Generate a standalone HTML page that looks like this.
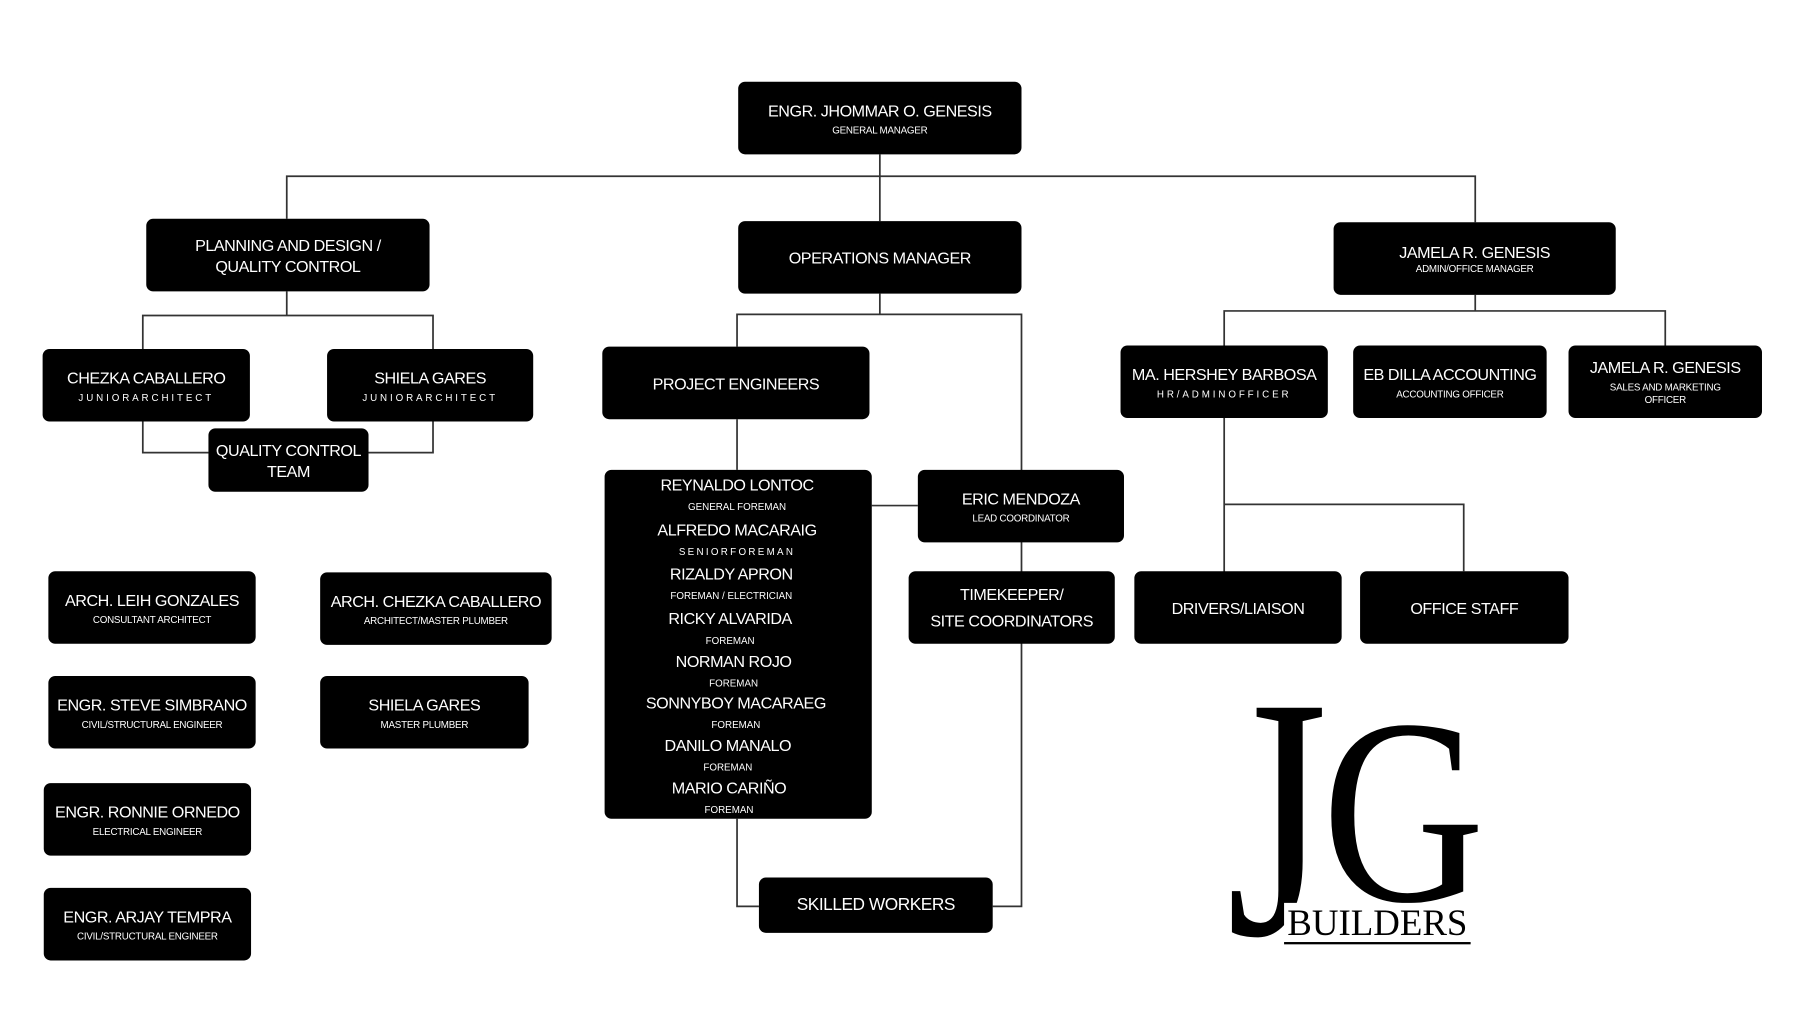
<!DOCTYPE html>
<html><head><meta charset="utf-8"><style>
html,body{margin:0;padding:0;background:#fff;width:1800px;height:1013px;overflow:hidden}
#c{position:absolute;left:0;top:0;width:1563px;height:880px;transform:scale(1.15163);transform-origin:0 0;font-family:"Liberation Sans",sans-serif}
.b{position:absolute;background:#000;border-radius:6px;color:#fff;display:flex;flex-direction:column;align-items:center;justify-content:center;text-align:center;font-size:14px;line-height:18px;white-space:nowrap;letter-spacing:-0.4px}
.b small{font-size:8.5px;line-height:11px;margin-top:3px;letter-spacing:-0.2px}
.b small.sp{letter-spacing:2.5px}
svg{position:absolute;left:0;top:0}
.l{position:absolute;font-size:14px;text-align:center;width:232px;color:#fff;line-height:17px;white-space:nowrap;letter-spacing:-0.4px}
.l small{font-size:8.5px;letter-spacing:0}
</style></head><body><div id="c">
<svg width="1563" height="880"><g stroke="#333" stroke-width="1.5" fill="none">
<path d="M764 134V192M249 190V153H1281V193"/>
<path d="M249 253V274M124 303V274H376V303M124 366V393H181M376 366V393H320"/>
<path d="M764 255V273M640 301V273H887V787H862M640 364V408M757 439H797M640 711V787H659"/>
<path d="M1281 256V270M1063 300V270H1446V300M1063 363V497M1063 438H1271V496"/>
</g></svg>
<div class="b" style="left:641px;top:71px;width:246px;height:63px">ENGR. JHOMMAR O. GENESIS<small>GENERAL MANAGER</small></div>
<div class="b" style="left:127px;top:190px;width:246px;height:63px">PLANNING AND DESIGN /<br>QUALITY CONTROL</div>
<div class="b" style="left:641px;top:192px;width:246px;height:63px">OPERATIONS MANAGER</div>
<div class="b" style="left:1158px;top:193px;width:245px;height:63px">JAMELA R. GENESIS<small style="margin-top:0">ADMIN/OFFICE MANAGER</small></div>
<div class="b" style="left:37px;top:303px;width:180px;height:63px">CHEZKA CABALLERO<small class="sp">JUNIORARCHITECT</small></div>
<div class="b" style="left:284px;top:303px;width:179px;height:63px">SHIELA GARES<small class="sp">JUNIORARCHITECT</small></div>
<div class="b" style="left:181px;top:372px;width:139px;height:55px">QUALITY CONTROL<br>TEAM</div>
<div class="b" style="left:523px;top:301px;width:232px;height:63px">PROJECT ENGINEERS</div>
<div class="b" style="left:525px;top:408px;width:232px;height:303px"></div>
<div class="l" style="left:524px;top:413px">REYNALDO LONTOC<br><small>GENERAL FOREMAN</small></div>
<div class="l" style="left:524px;top:452px">ALFREDO MACARAIG<br><small style="letter-spacing:2px">SENIORFOREMAN</small></div>
<div class="l" style="left:519px;top:490px">RIZALDY APRON<br><small>FOREMAN / ELECTRICIAN</small></div>
<div class="l" style="left:518px;top:529px">RICKY ALVARIDA<br><small>FOREMAN</small></div>
<div class="l" style="left:521px;top:566px">NORMAN ROJO<br><small>FOREMAN</small></div>
<div class="l" style="left:523px;top:602px">SONNYBOY MACARAEG<br><small>FOREMAN</small></div>
<div class="l" style="left:516px;top:639px">DANILO MANALO<br><small>FOREMAN</small></div>
<div class="l" style="left:517px;top:676px">MARIO CARIÑO<br><small>FOREMAN</small></div>
<div class="b" style="left:797px;top:408px;width:179px;height:63px">ERIC MENDOZA<small>LEAD COORDINATOR</small></div>
<div class="b" style="left:789px;top:496px;width:179px;height:63px;line-height:23px">TIMEKEEPER/<br>SITE COORDINATORS</div>
<div class="b" style="left:659px;top:762px;width:203px;height:48px;font-size:15px">SKILLED WORKERS</div>
<div class="b" style="left:973px;top:300px;width:180px;height:63px">MA. HERSHEY BARBOSA<small class="sp">HR/ADMINOFFICER</small></div>
<div class="b" style="left:1175px;top:300px;width:168px;height:63px">EB DILLA ACCOUNTING<small>ACCOUNTING OFFICER</small></div>
<div class="b" style="left:1362px;top:300px;width:168px;height:63px">JAMELA R. GENESIS<small>SALES AND MARKETING<br>OFFICER</small></div>
<div class="b" style="left:985px;top:496px;width:180px;height:63px">DRIVERS/LIAISON</div>
<div class="b" style="left:1181px;top:496px;width:181px;height:63px">OFFICE STAFF</div>
<div class="b" style="left:42px;top:496px;width:180px;height:63px">ARCH. LEIH GONZALES<small>CONSULTANT ARCHITECT</small></div>
<div class="b" style="left:42px;top:587px;width:180px;height:63px">ENGR. STEVE SIMBRANO<small>CIVIL/STRUCTURAL ENGINEER</small></div>
<div class="b" style="left:38px;top:680px;width:180px;height:63px">ENGR. RONNIE ORNEDO<small>ELECTRICAL ENGINEER</small></div>
<div class="b" style="left:38px;top:771px;width:180px;height:63px">ENGR. ARJAY TEMPRA<small>CIVIL/STRUCTURAL ENGINEER</small></div>
<div class="b" style="left:278px;top:497px;width:201px;height:63px">ARCH. CHEZKA CABALLERO<small>ARCHITECT/MASTER PLUMBER</small></div>
<div class="b" style="left:278px;top:587px;width:181px;height:63px">SHIELA GARES<small>MASTER PLUMBER</small></div>
<div style="position:absolute;left:1065px;top:560px;font-family:'Liberation Serif',serif;font-size:300px;line-height:300px;color:#000;transform:scaleX(0.75);transform-origin:0 0">J</div>
<div style="position:absolute;left:1148px;top:590px;font-family:'Liberation Serif',serif;font-size:230px;line-height:230px;color:#000;transform:scaleX(0.85);transform-origin:0 0">G</div>
<div style="position:absolute;left:1115px;top:784px;width:162px;background:#fff;font-family:'Liberation Serif',serif;font-size:32px;line-height:34px;color:#000;border-bottom:2px solid #000;text-align:center">BUILDERS</div>
</div></body></html>
